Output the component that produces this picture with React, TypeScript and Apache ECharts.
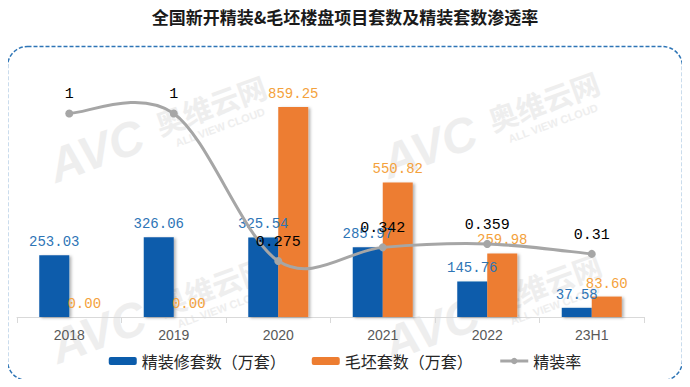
import React, { useEffect, useRef } from "react";
import * as echarts from "echarts";

const title = "全国新开精装&毛坯楼盘项目套数及精装套数渗透率";
const categories = ["2018", "2019", "2020", "2021", "2022", "23H1"];
const finishedUnits = [253.03, 326.06, 325.54, 285.97, 145.76, 37.58];
const roughUnits = [0.0, 0.0, 859.25, 550.82, 259.98, 83.6];
const finishedRate = [1, 1, 0.275, 0.342, 0.359, 0.31];
const seriesNames = ["精装修套数（万套）", "毛坯套数（万套）", "精装率"];

const WM = "#EEEEEE";
const watermark = (cx: number, cy: number) => ({
  type: "group",
  x: cx,
  y: cy,
  rotation: (20 * Math.PI) / 180,
  z: 0,
  silent: true,
  children: [
    {
      type: "text",
      x: -118,
      y: -5,
      style: {
        text: "AVC",
        fill: WM,
        font: "italic bold 48px 'Liberation Sans', Arial, sans-serif",
        textAlign: "left",
        textVerticalAlign: "middle",
      },
    },
    {
      type: "text",
      x: -4,
      y: -10,
      style: {
        text: "奥维云网",
        fill: WM,
        font: "bold 29px 'Noto Sans CJK SC', sans-serif",
        textAlign: "left",
        textVerticalAlign: "middle",
      },
    },
    {
      type: "text",
      x: 8,
      y: 15,
      style: {
        text: "ALL VIEW CLOUD",
        fill: WM,
        font: "bold 11px 'Liberation Sans', Arial, sans-serif",
        textAlign: "left",
        textVerticalAlign: "middle",
      },
    },
  ],
});

export default function App() {
  const ref = useRef<HTMLDivElement>(null);
  useEffect(() => {
    if (!ref.current) return;
    const chart = echarts.init(ref.current, undefined, { renderer: "svg" });
    const barLabel = (color: string) => ({
      show: true,
      position: "top" as const,
      distance: 6,
      color,
      fontSize: 14,
      fontFamily: "'Liberation Mono', monospace",
      formatter: (p: any) => Number(p.value).toFixed(2),
    });
    const barShadow = {
      shadowColor: "rgba(0,0,0,0.3)",
      shadowBlur: 3,
      shadowOffsetX: 2,
      shadowOffsetY: 1,
    };
    const lineColor = "#A6A6A6";
    chart.setOption({
      animation: false,
      backgroundColor: "#ffffff",
      title: {
        text: title,
        left: "center",
        top: 3,
        textStyle: {
          fontSize: 17,
          fontWeight: "bold",
          color: "#1a1a1a",
          fontFamily: "'Noto Sans CJK SC', sans-serif",
        },
      },
      graphic: [
        watermark(163, 132),
        watermark(496, 128),
        watermark(165, 313),
        watermark(498, 310),
        {
          type: "rect",
          z: 1,
          silent: true,
          shape: { x: 7.5, y: 46.5, width: 675, height: 334, r: 20 },
          style: {
            fill: "none",
            stroke: "#2E75B6",
            lineWidth: 1.5,
            lineDash: [4, 2],
          },
        },
      ],
      legend: {
        data: [
          seriesNames[0],
          seriesNames[1],
          {
            name: seriesNames[2],
            lineStyle: { color: lineColor, width: 3, opacity: 1 },
            itemStyle: { color: lineColor },
          },
        ],
        left: "center",
        top: 348,
        itemWidth: 28,
        itemHeight: 8,
        itemGap: 26,
        textStyle: {
          fontSize: 16,
          color: "#262626",
          fontFamily: "'Noto Sans CJK SC', sans-serif",
        },
      },
      grid: { left: 17, right: 46, top: 72.7, bottom: 70, containLabel: false },
      xAxis: {
        type: "category",
        data: categories,
        axisLine: { lineStyle: { color: "#D9D9D9", width: 1 } },
        axisTick: { show: true, length: 6, lineStyle: { color: "#D9D9D9" } },
        axisLabel: {
          color: "#595959",
          fontSize: 14,
          margin: 11,
          fontFamily: "'Liberation Sans', Arial, sans-serif",
        },
      },
      yAxis: [
        { type: "value", min: 0, max: 1000, show: false, splitLine: { show: false } },
        { type: "value", min: 0, max: 1.2, show: false, splitLine: { show: false } },
      ],
      series: [
        {
          name: seriesNames[0],
          type: "bar",
          data: finishedUnits,
          barWidth: 30,
          barGap: "0%",
          itemStyle: { color: "#0B5CAB", ...barShadow },
          label: barLabel("#2E75B6"),
        },
        {
          name: seriesNames[1],
          type: "bar",
          data: roughUnits,
          barWidth: 30,
          barGap: "0%",
          itemStyle: { color: "#ED7D31", ...barShadow },
          label: barLabel("#F4A23C"),
        },
        {
          name: "精装率曲线",
          type: "custom",
          yAxisIndex: 1,
          z: 4,
          silent: true,
          data: finishedRate.map((v, i) => [i, v]),
          renderItem: (params: any, api: any) => {
            if (params.dataIndex !== 0) return null;
            const pts = finishedRate.map((v, i) => api.coord([i, v]));
            let d = `M ${pts[0][0]} ${pts[0][1]}`;
            for (let i = 0; i < pts.length - 1; i++) {
              const p0 = pts[Math.max(0, i - 1)];
              const p1 = pts[i];
              const p2 = pts[i + 1];
              const p3 = pts[Math.min(pts.length - 1, i + 2)];
              const c1x = p1[0] + (p2[0] - p0[0]) / 6;
              const c1y = p1[1] + (p2[1] - p0[1]) / 6;
              const c2x = p2[0] - (p3[0] - p1[0]) / 6;
              const c2y = p2[1] - (p3[1] - p1[1]) / 6;
              d += ` C ${c1x} ${c1y} ${c2x} ${c2y} ${p2[0]} ${p2[1]}`;
            }
            return {
              type: "path",
              shape: { pathData: d },
              style: { fill: "none", stroke: lineColor, lineWidth: 3 },
            };
          },
        },
        {
          name: seriesNames[2],
          type: "line",
          yAxisIndex: 1,
          data: finishedRate,
          symbol: "circle",
          symbolSize: 8,
          z: 5,
          lineStyle: { color: lineColor, width: 3, opacity: 0 },
          itemStyle: { color: lineColor },
          label: {
            show: true,
            position: "top",
            distance: 7,
            color: "#000000",
            fontSize: 15,
            fontFamily: "'Liberation Mono', monospace",
          },
        },
      ],
    });
    return () => chart.dispose();
  }, []);
  return <div ref={ref} style={{ width: 690, height: 387, margin: -8 }} />;
}
